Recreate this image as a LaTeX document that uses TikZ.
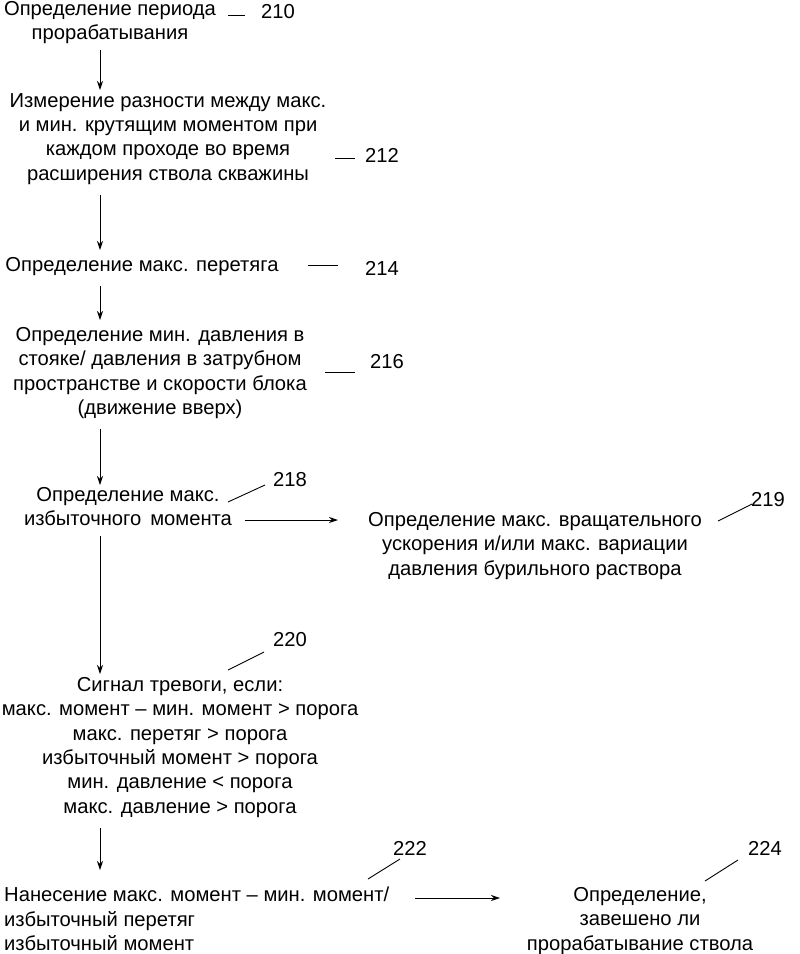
\documentclass[tikz,border=0pt]{standalone}
\usepackage{fontspec}
\setmainfont{Liberation Sans}
\usetikzlibrary{arrows.meta}
\tikzset{
  txt/.style={align=center, inner sep=0pt, anchor=north, font=\fontsize{20.2}{24.4}\selectfont},
  num/.style={inner sep=0pt, font=\fontsize{20.2}{24.4}\selectfont},
  flow/.style={-{Stealth[length=9pt,width=6pt]}, line width=0.9pt},
  lead/.style={line width=0.9pt}
}
\begin{document}
\begin{tikzpicture}[x=1pt,y=-1pt]
  \useasboundingbox (0,0) rectangle (800,954);
  \coordinate (ax) at (100,0);
  \coordinate (e219) at (338,520);

  % blocks
  \node[txt] (b210) at (110,1) {Определение периода\\прорабатывания};
  \node[txt] (b212) at (168,93) {Измерение разности между макс.\\и мин. крутящим моментом при\\каждом проходе во время\\расширения ствола скважины};
  \node[txt] (b214) at (142,257) {Определение макс. перетяга};
  \node[txt] (b216) at (160,327) {Определение мин. давления в\\стояке/ давления в затрубном\\пространстве и скорости блока\\(движение вверх)};
  \node[txt] (b218) at (128,487) {Определение макс.\\избыточного\, момента};
  \node[txt] (b219) at (535,512) {Определение макс. вращательного\\ускорения и/или макс. вариации\\давления бурильного раствора};
  \node[txt] (b220) at (180,677) {Сигнал тревоги, если:\\макс. момент -- мин. момент > порога\\макс. перетяг > порога\\избыточный момент > порога\\мин. давление < порога\\макс. давление > порога};
  \node[txt, align=left, anchor=north west] (b222) at (4,887) {Нанесение макс. момент -- мин. момент/\\избыточный перетяг\\избыточный момент};
  \node[txt] (b224) at (640,887) {Определение,\\завешено ли\\прорабатывание ствола};

  % numbers
  \node[num] (n210) at (278,12) {210};
  \node[num] (n212) at (382,155) {212};
  \node[num] (n214) at (382,268) {214};
  \node[num] (n216) at (387,362) {216};
  \node[num] (n218) at (290,480) {218};
  \node[num] (n219) at (768,500) {219};
  \node[num] (n220) at (290,640) {220};
  \node[num] (n222) at (410,848) {222};
  \node[num] (n224) at (765,848) {224};

  % leaders
  \draw[lead] (228,15) -- (245,15);
  \draw[lead] (335,158) -- (355,158);
  \draw[lead] (308,265) -- (338,265);
  \draw[lead] (325,372) -- (355,372);
  \draw[lead] (228,502) -- (265,485);
  \draw[lead] (718,521) -- (752,504);
  \draw[lead] (228,670) -- (264,652);
  \draw[lead] (368,879) -- (400,859);
  \draw[lead] (705,881) -- (738,860);

  % arrows
  \draw[flow] (b210.south -| ax) ++(0,6) -- (100,90);
  \draw[flow] (b212.south -| ax) ++(0,10) -- (100,250);
  \draw[flow] (b214.south -| ax) ++(0,10) -- (100,320);
  \draw[flow] (b216.south -| ax) ++(0,10) -- (100,485);
  \draw[flow] (b218.south -| ax) ++(0,10) -- (100,674);
  \draw[flow] (b220.south -| ax) ++(0,10) -- (100,870);
  \draw[flow] (245,520) -- (e219);
  \draw[flow] (415,898) -- (500,898);
\end{tikzpicture}
\end{document}
